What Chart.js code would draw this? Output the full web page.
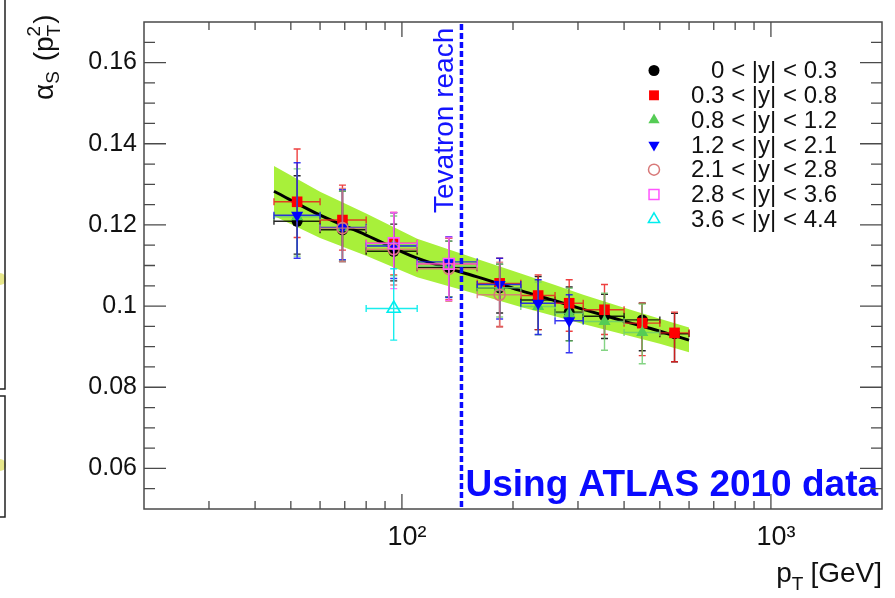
<!DOCTYPE html>
<html>
<head>
<meta charset="utf-8">
<script src="https://cdn.jsdelivr.net/npm/chart.js@4.4.1/dist/chart.umd.min.js"></script>
<style>
  html, body { margin: 0; padding: 0; background: #ffffff; }
  #wrap { width: 895px; height: 598px; }
</style>
</head>
<body>
<div id="wrap"><canvas id="c" width="895" height="598"></canvas></div>
<script>
const FONT = '"Liberation Sans", Arial, Helvetica, sans-serif';

// Jet pT bins [GeV]
const binLow    = [45, 60, 80, 110, 160, 210, 260, 310, 400, 500];
const binHigh   = [60, 80, 110, 160, 210, 260, 310, 400, 500, 600];
const binCenter = [52, 69, 95, 134, 184, 234, 284, 354, 448, 548];

// alpha_s(pT) per rapidity slice: value, upper and lower uncertainty
const rapA   = [0.1209, 0.1188, 0.1135, 0.1095, 0.1045, 0.1015, 0.0985, 0.0975, 0.0966, 0.0932];
const rapAUp = [0.0112, 0.0095, 0.0067, 0.0065, 0.0058, 0.0058, 0.0062, 0.0054, 0.0041, 0.0050];
const rapADn = [0.0081, 0.0078, 0.0073, 0.0072, 0.0062, 0.0073, 0.0070, 0.0055, 0.0076, 0.0069];

const rapB   = [0.1257, 0.1212, 0.1155, 0.1104, 0.1056, 0.1026, 0.1007, 0.0991, 0.0958, 0.0934];
const rapBUp = [0.0130, 0.0086, 0.0076, 0.0063, 0.0062, 0.0051, 0.0058, 0.0062, 0.0049, 0.0051];
const rapBDn = [0.0088, 0.0074, 0.0078, 0.0088, 0.0106, 0.0084, 0.0069, 0.0061, 0.0080, 0.0071];

const rapC   = [0.1220, 0.1193, 0.1150, 0.1098, 0.1045, 0.0999, 0.0982, 0.0962, 0.0935, null];
const rapCUp = [0.0118, 0.0090, 0.0072, 0.0062, 0.0058, 0.0060, 0.0062, 0.0070, 0.0070, null];
const rapCDn = [0.0097, 0.0082, 0.0075, 0.0075, 0.0072, 0.0070, 0.0068, 0.0071, 0.0077, null];

const rapD   = [0.1224, 0.1194, 0.1148, 0.1109, 0.1053, 0.1007, 0.0964, null, null, null];
const rapDUp = [0.0129, 0.0093, 0.0082, 0.0062, 0.0065, 0.0058, 0.0064, null, null, null];
const rapDDn = [0.0106, 0.0080, 0.0080, 0.0088, 0.0085, 0.0077, 0.0079, null, null, null];

const rapE   = [null, 0.1192, 0.1140, 0.1092, 0.1028, null, null, null, null, null];
const rapEUp = [null, 0.0098, 0.0090, 0.0075, 0.0080, null, null, null, null, null];
const rapEDn = [null, 0.0082, 0.0088, 0.0080, 0.0080, null, null, null, null, null];

const rapF   = [null, null, 0.1155, 0.1104, null, null, null, null, null, null];
const rapFUp = [null, null, 0.0076, 0.0066, null, null, null, null, null, null];
const rapFDn = [null, null, 0.0112, 0.0090, null, null, null, null, null, null];

const rapG   = [null, null, 0.0994, null, null, null, null, null, null, null];
const rapGUp = [null, null, 0.0098, null, null, null, null, null, null, null];
const rapGDn = [null, null, 0.0078, null, null, null, null, null, null, null];

// Combined fit: central curve and uncertainty band
const fitPt    = [45, 60, 80, 110, 160, 210, 260, 310, 400, 500, 600];
const fitMid   = [0.1283, 0.1224, 0.1175, 0.1118, 0.1072, 0.1038, 0.1013, 0.0992, 0.0963, 0.0938, 0.0916];
const fitUpper = [0.1345, 0.1282, 0.1228, 0.1166, 0.1116, 0.1080, 0.1052, 0.1028, 0.0996, 0.0969, 0.0947];
const fitLower = [0.1222, 0.1168, 0.1124, 0.1071, 0.1029, 0.0998, 0.0975, 0.0956, 0.0930, 0.0907, 0.0886];

const tevatronReach = 145;

const legendLabels = ['0 < |y| < 0.3', '0.3 < |y| < 0.8', '0.8 < |y| < 1.2', '1.2 < |y| < 2.1',
                      '2.1 < |y| < 2.8', '2.8 < |y| < 3.6', '3.6 < |y| < 4.4'];

// Axis ticks and labels
const xTickValues  = [20, 30, 40, 50, 60, 70, 80, 90, 100, 200, 300, 400, 500, 600, 700, 800, 900, 1000, 2000];
const xLabelValues = [100, 1000];
const xLabelTexts  = ['10\u00B2', '10\u00B3'];
const yTickValues  = Array.from({ length: 25 }, (_, i) => +(0.05 + i * 0.005).toFixed(3));
const yLabelValues = [0.06, 0.08, 0.1, 0.12, 0.14, 0.16];
const yLabelTexts  = ['0.06', '0.08', '0.1', '0.12', '0.14', '0.16'];

function labelFor(values, texts, v) {
  const i = values.findIndex(t => Math.abs(t - v) < 1e-6 * Math.max(1, t));
  return i >= 0 ? texts[i] : '';
}

function points(vals, up, dn, centers) {
  const out = [];
  vals.forEach((v, i) => {
    if (v === null) return;
    out.push({ x: centers[i], y: v, xlo: binLow[i], xhi: binHigh[i], up: up[i], dn: dn[i] });
  });
  return out;
}

const series = [
  { vals: rapA, up: rapAUp, dn: rapADn, style: 'circle',   rot: 0,   r: 5.5, fill: '#000000', line: '#000000', err: 'rgba(0,0,0,0.85)',       open: false },
  { vals: rapB, up: rapBUp, dn: rapBDn, style: 'rect',     rot: 0,   r: 7.5, fill: '#ff0000', line: '#ff0000', err: 'rgba(235,30,30,0.85)',    open: false },
  { vals: rapC, up: rapCUp, dn: rapCDn, style: 'triangle', rot: 0,   r: 7,   fill: '#55cc55', line: '#55cc55', err: 'rgba(110,205,110,0.85)',  open: false },
  { vals: rapD, up: rapDUp, dn: rapDDn, style: 'triangle', rot: 180, r: 7,   fill: '#0000ff', line: '#0000ff', err: 'rgba(20,20,240,0.85)',    open: false },
  { vals: rapE, up: rapEUp, dn: rapEDn, style: 'circle',   rot: 0,   r: 5.5, fill: 'rgba(0,0,0,0)', line: '#d87878', err: 'rgba(216,120,120,0.85)', open: true },
  { vals: rapF, up: rapFUp, dn: rapFDn, style: 'rect',     rot: 0,   r: 7.5, fill: 'rgba(0,0,0,0)', line: '#ff55ff', err: 'rgba(255,90,255,0.85)',  open: true },
  { vals: rapG, up: rapGUp, dn: rapGDn, style: 'triangle', rot: 0,   r: 7.5, fill: 'rgba(0,0,0,0)', line: '#00eeee', err: 'rgba(0,235,235,0.9)',    open: true }
];

const datasets = [
  { type: 'line', data: fitPt.map((x, i) => ({ x, y: fitUpper[i] })), fill: '+1',
    backgroundColor: '#a8f03a', borderWidth: 0, pointRadius: 0, tension: 0, order: 100 },
  { type: 'line', data: fitPt.map((x, i) => ({ x, y: fitLower[i] })), fill: false,
    borderWidth: 0, pointRadius: 0, tension: 0, order: 100 },
  { type: 'line', data: fitPt.map((x, i) => ({ x, y: fitMid[i] })), fill: false,
    borderColor: '#000000', borderWidth: 3, pointRadius: 0, cubicInterpolationMode: 'monotone', order: 90 }
];
series.forEach((s, k) => {
  datasets.push({
    type: 'scatter',
    label: legendLabels[k],
    data: points(s.vals, s.up, s.dn, binCenter),
    pointStyle: s.style,
    rotation: s.rot,
    pointRadius: s.r,
    pointHoverRadius: s.r,
    backgroundColor: s.fill,
    borderColor: s.line,
    borderWidth: s.open ? 1.6 : 0,
    errColor: s.err,
    order: 7 - k
  });
});

// Error bars of each slice, drawn just before its markers
const errorBars = {
  id: 'errorBars',
  beforeDatasetDraw(chart, args) {
    const ds = chart.data.datasets[args.index];
    if (!ds.errColor) return;
    const { ctx } = chart;
    const xs = chart.scales.x, ys = chart.scales.y;
    const cap = 3.5;
    ctx.save();
    ctx.strokeStyle = ds.errColor;
    ctx.lineWidth = 1.4;
    ds.data.forEach(p => {
      const px = xs.getPixelForValue(p.x), py = ys.getPixelForValue(p.y);
      const xl = xs.getPixelForValue(p.xlo), xh = xs.getPixelForValue(p.xhi);
      const yt = ys.getPixelForValue(p.y + p.up), yb = ys.getPixelForValue(p.y - p.dn);
      ctx.beginPath();
      ctx.moveTo(xl, py); ctx.lineTo(xh, py);
      ctx.moveTo(px, yt); ctx.lineTo(px, yb);
      ctx.moveTo(xl, py - cap); ctx.lineTo(xl, py + cap);
      ctx.moveTo(xh, py - cap); ctx.lineTo(xh, py + cap);
      ctx.moveTo(px - cap, yt); ctx.lineTo(px + cap, yt);
      ctx.moveTo(px - cap, yb); ctx.lineTo(px + cap, yb);
      ctx.stroke();
    });
    ctx.restore();
  }
};

// Frame, inward ticks, reference line, annotations, legend and axis titles
const decorations = {
  id: 'decorations',
  afterDatasetsDraw(chart) {
    const { ctx, chartArea: a } = chart;
    const xs = chart.scales.x, ys = chart.scales.y;

    // Tevatron reach
    const tx = xs.getPixelForValue(tevatronReach);
    ctx.save();
    ctx.strokeStyle = '#0a0aff';
    ctx.lineWidth = 3.5;
    ctx.setLineDash([6, 3]);
    ctx.beginPath();
    ctx.moveTo(tx, a.top + 2);
    ctx.lineTo(tx, a.bottom);
    ctx.stroke();
    ctx.restore();

    ctx.save();
    ctx.fillStyle = '#1414ff';
    ctx.font = '28px ' + FONT;
    ctx.translate(tx - 8.5, 213);
    ctx.rotate(-Math.PI / 2);
    ctx.textAlign = 'left';
    ctx.textBaseline = 'alphabetic';
    ctx.fillText('Tevatron reach', 0, 0);
    ctx.restore();

    ctx.save();
    ctx.fillStyle = '#0a0aff';
    ctx.font = 'bold 37px ' + FONT;
    ctx.textAlign = 'left';
    ctx.textBaseline = 'alphabetic';
    ctx.fillText('Using ATLAS 2010 data', tx + 4, 496);
    ctx.restore();

    // frame and ticks
    ctx.save();
    ctx.strokeStyle = '#4a4a4a';
    ctx.lineWidth = 1.5;
    ctx.strokeRect(a.left, a.top, a.right - a.left, a.bottom - a.top);
    ctx.lineWidth = 1.3;
    ctx.beginPath();
    xTickValues.forEach(v => {
      const px = xs.getPixelForValue(v);
      if (px <= a.left + 1 || px >= a.right - 1) return;
      const len = labelFor(xLabelValues, xLabelTexts, v) ? 15 : 8;
      ctx.moveTo(px, a.bottom); ctx.lineTo(px, a.bottom - len);
      ctx.moveTo(px, a.top); ctx.lineTo(px, a.top + len);
    });
    yTickValues.forEach(v => {
      const py = ys.getPixelForValue(v);
      if (py <= a.top + 1 || py >= a.bottom - 1) return;
      const len = labelFor(yLabelValues, yLabelTexts, v) ? 22 : 11;
      ctx.moveTo(a.left, py); ctx.lineTo(a.left + len, py);
      ctx.moveTo(a.right, py); ctx.lineTo(a.right - len, py);
    });
    ctx.stroke();
    ctx.restore();

    // legend
    ctx.save();
    ctx.font = '24px ' + FONT;
    ctx.textAlign = 'right';
    ctx.textBaseline = 'middle';
    series.forEach((s, k) => {
      const ly = 70.5 + k * 24.8;
      ctx.fillStyle = s.fill;
      ctx.strokeStyle = s.line;
      ctx.lineWidth = s.open ? 1.5 : 0;
      Chart.helpers.drawPoint(ctx, {
        pointStyle: s.style, rotation: s.rot,
        radius: s.style === 'rect' ? 7 : (s.style === 'circle' ? 5.5 : 6.5),
        borderWidth: s.open ? 1.5 : 0
      }, 654, ly);
      ctx.fillStyle = '#111111';
      ctx.fillText(legendLabels[k], 837, ly + 1);
    });
    ctx.restore();

    // y axis title: alpha_S (p_T^2)
    ctx.save();
    ctx.fillStyle = '#111111';
    ctx.translate(53, 100);
    ctx.rotate(-Math.PI / 2);
    ctx.textBaseline = 'alphabetic';
    ctx.textAlign = 'left';
    let cx = 0;
    const big = '28px ' + FONT, small = '19px ' + FONT;
    ctx.font = big;   ctx.fillText('\u03B1', cx, 0); cx += ctx.measureText('\u03B1').width;
    ctx.font = small; ctx.fillText('S', cx, 6);      cx += ctx.measureText('S').width + 2;
    ctx.font = big;   ctx.fillText(' (p', cx, 0);    cx += ctx.measureText(' (p').width;
    ctx.font = small; ctx.fillText('T', cx, 7);      ctx.fillText('2', cx, -13);
    cx += ctx.measureText('T').width + 1;
    ctx.font = big;   ctx.fillText(')', cx, 0);
    ctx.restore();

    // x axis title: p_T [GeV]
    ctx.save();
    ctx.fillStyle = '#111111';
    ctx.textBaseline = 'alphabetic';
    ctx.textAlign = 'right';
    ctx.font = big;
    ctx.fillText('[GeV]', a.right, 582);
    let ex = a.right - ctx.measureText('[GeV]').width - 7;
    ctx.font = small;
    ctx.fillText('T', ex, 590);
    ex -= ctx.measureText('T').width;
    ctx.font = big;
    ctx.fillText('p', ex, 582);
    ctx.restore();

    // edge of the neighbouring panel
    ctx.save();
    ctx.fillStyle = 'rgba(225,225,110,0.8)';
    ctx.beginPath(); ctx.arc(0, 279, 6, 0, Math.PI * 2); ctx.fill();
    ctx.beginPath(); ctx.arc(0, 465, 6, 0, Math.PI * 2); ctx.fill();
    ctx.strokeStyle = '#222222';
    ctx.lineWidth = 1.5;
    ctx.beginPath();
    ctx.moveTo(5, 0); ctx.lineTo(5, 389); ctx.lineTo(0, 389);
    ctx.moveTo(0, 396); ctx.lineTo(5, 396); ctx.lineTo(5, 517); ctx.lineTo(0, 517);
    ctx.stroke();
    ctx.restore();
  }
};

new Chart(document.getElementById('c'), {
  type: 'scatter',
  data: { datasets },
  options: {
    responsive: false,
    animation: false,
    layout: { padding: { left: 0, top: 18, right: 13, bottom: 0 } },
    plugins: { legend: { display: false }, tooltip: { enabled: false } },
    scales: {
      x: {
        type: 'logarithmic', min: 20, max: 2000, position: 'bottom',
        grid: { display: false, drawTicks: false }, border: { display: false },
        afterBuildTicks: s => { s.ticks = xTickValues.map(v => ({ value: v })); },
        afterFit: s => { s.height = 89; },
        ticks: {
          autoSkip: false, maxRotation: 0, minRotation: 0, padding: 12, labelOffset: 5,
          color: '#111111', font: { family: FONT, size: 27 },
          callback: v => labelFor(xLabelValues, xLabelTexts, v)
        }
      },
      y: {
        type: 'linear', min: 0.05, max: 0.17, position: 'left',
        grid: { display: false, drawTicks: false }, border: { display: false },
        afterBuildTicks: s => { s.ticks = yTickValues.map(v => ({ value: v })); },
        afterFit: s => { s.width = 144; },
        ticks: {
          autoSkip: false, padding: 7,
          color: '#111111', font: { family: FONT, size: 25 },
          callback: v => labelFor(yLabelValues, yLabelTexts, v)
        }
      }
    }
  },
  plugins: [errorBars, decorations]
});
</script>
</body>
</html>
